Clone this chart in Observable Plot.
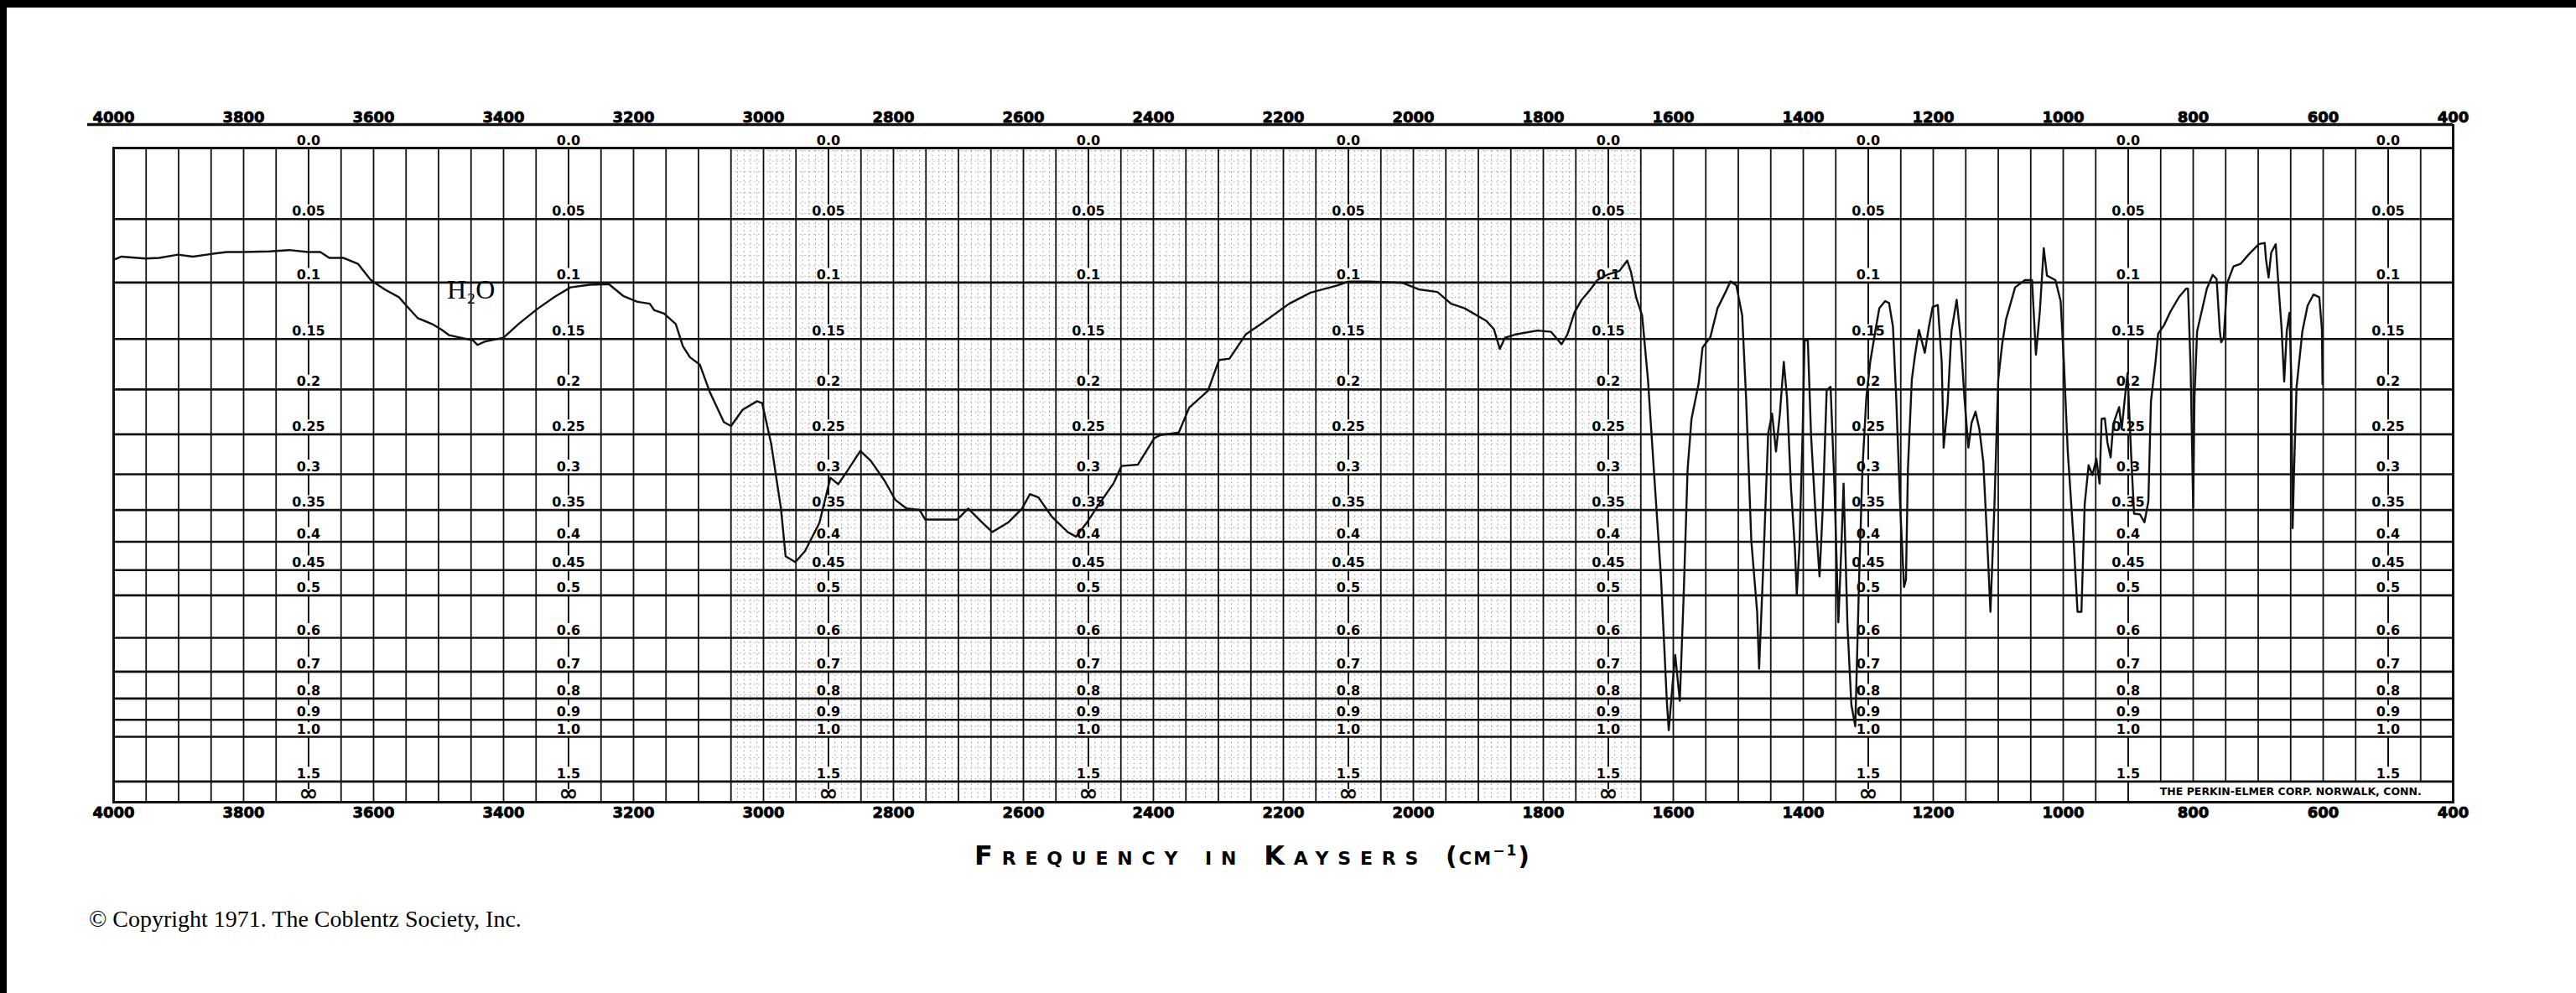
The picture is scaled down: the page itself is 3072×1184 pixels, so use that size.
<!DOCTYPE html>
<html>
<head>
<meta charset="utf-8">
<script src="https://cdn.jsdelivr.net/npm/d3@7"></script>
<script src="https://cdn.jsdelivr.net/npm/@observablehq/plot@0.6"></script>
<style>
html, body { margin: 0; padding: 0; background: #fff; }
body { width: 3072px; height: 1184px; position: relative; overflow: hidden; }
#chart { position: absolute; left: 0; top: 0; }
#topbar { position: absolute; left: 0; top: 0; width: 3072px; height: 9px; background: #000; }
#leftbar { position: absolute; left: 0; top: 0; width: 8px; height: 1184px; background: #000; }
#title { position: absolute; left: 1162px; top: 1004px; font-family: "DejaVu Sans", sans-serif; font-weight: bold;
  font-variant: small-caps; font-size: 32px; line-height: 1; letter-spacing: 10.8px; color: #000; white-space: nowrap; }
#title .unit { font-size: 30px; letter-spacing: 2px; margin-left: 22px; }
#caption { position: absolute; left: 106px; top: 1082px; font-family: "Liberation Serif", "DejaVu Serif", serif;
  font-size: 28px; line-height: 1; color: #000; white-space: nowrap; }
</style>
</head>
<body>
<div id="chart"></div>
<div id="topbar"></div>
<div id="leftbar"></div>
<div id="title">Frequency in Kaysers<span class="unit">(cm<sup style="font-size:17px">−1</sup>)</span></div>
<div id="caption">© Copyright 1971. The Coblentz Society, Inc.</div>
<script>
// ---- Data (wavenumber in cm-1, transmittance in %) ----
const wavenumber = [
  4000,3988,3951,3930,3901,3878,3850,3826,3800,3760,3730,3701,3682,3668,3646,3624,3605,3598,3583,3561,
  3543,3532,3510,3495,3484,3466,3447,3440,3429,3400,3377,3348,3322,3297,3267,3238,3216,3194,3175,3168,
  3153,3135,3124,3113,3098,3083,3061,3050,3032,3010,3002,2988,2973,2966,2951,2936,2914,2897,2885,2872,
  2851,2835,2814,2797,2780,2760,2751,2731,2702,2685,2664,2648,2623,2602,2590,2577,2556,2532,2519,2502,
  2482,2461,2449,2424,2399,2390,2361,2345,2316,2299,2283,2258,2233,2191,2158,2117,2100,2067,2017,1992,
  1963,1942,1921,1888,1876,1867,1859,1843,1809,1788,1772,1763,1752,1741,1729,1717,1700,1683,1671,1665,
  1657,1648,1639,1630,1619,1610,1607,1601,1597,1590,1584,1578,1572,1561,1555,1543,1532,1520,1512,1503,
  1494,1488,1480,1471,1468,1462,1454,1448,1442,1436,1430,1425,1419,1413,1410,1406,1401,1398,1393,1388,
  1380,1375,1370,1364,1358,1352,1346,1341,1338,1332,1326,1320,1314,1309,1303,1297,1288,1283,1274,1268,
  1262,1257,1251,1245,1242,1239,1233,1228,1222,1213,1207,1201,1193,1187,1184,1178,1172,1164,1158,1152,
  1146,1141,1135,1129,1123,1117,1112,1106,1100,1094,1088,1074,1059,1048,1042,1036,1030,1025,1012,1004,
  999,993,984,978,972,967,961,955,949,944,941,936,932,927,923,914,910,906,901,895,
  891,882,875,869,865,858,854,845,835,822,811,808,804,800,798,794,787,779,770,764,
  759,757,753,748,738,727,714,699,690,688,684,680,673,669,664,660,656,652,649,647,
  645,641,632,624,615,606,602,601
];
const transmittance = [
  82.9,83.4,83.1,83.2,83.7,83.4,83.8,84.1,84.1,84.2,84.4,84.1,84.1,83.2,83.2,82.3,79.9,79.4,78.4,77.2,
  75.2,74.0,73.1,72.2,71.4,71.0,70.6,69.9,70.4,71.0,73.1,75.4,77.2,78.7,79.1,79.2,77.4,76.5,76.2,75.2,
  74.7,73.1,69.7,68.0,66.9,62.8,58.1,57.5,60.0,61.3,61.0,54.7,44.8,37.6,36.7,38.4,42.7,49.6,48.6,50.5,
  53.7,52.2,49.2,46.2,44.9,44.7,43.2,43.2,43.2,44.9,42.8,41.3,42.8,44.9,47.1,46.6,43.6,41.3,40.6,42.8,
  45.8,48.8,51.4,51.6,55.6,56.1,56.5,60.3,62.9,67.6,67.8,71.5,73.2,76.2,77.9,79.0,79.6,79.6,79.4,78.4,
  78.0,76.2,75.5,73.6,72.3,69.3,71.0,71.5,72.1,71.9,70.0,71.5,74.9,76.8,78.2,79.8,80.7,81.2,82.8,81.0,
  77.1,74.4,64.6,50.9,34.5,15.5,11.0,18.2,22.5,15.5,31.8,50.9,58.6,64.0,69.5,71.1,75.5,77.9,79.6,79.0,
  74.4,61.8,40.0,29.1,20.4,35.0,56.4,59.4,53.6,59.4,67.3,61.8,48.2,38.9,31.8,38.9,56.4,70.6,70.6,56.0,
  42.0,34.5,45.0,63.0,63.5,48.2,27.5,40.0,48.7,27.0,14.9,11.6,34.5,50.9,61.8,67.3,72.7,75.5,76.6,76.3,
  72.7,61.8,45.5,32.9,34.0,50.9,64.6,68.4,72.2,68.7,72.5,75.7,76.0,67.3,54.2,60.7,72.0,76.8,71.1,61.8,
  54.2,58.0,59.7,57.0,52.0,40.0,29.1,45.0,64.6,70.0,73.8,78.7,79.8,79.8,68.4,75.0,84.7,80.5,79.8,76.6,
  67.3,53.6,40.0,29.1,29.1,45.5,51.5,50.0,52.5,48.7,58.6,58.7,55.0,52.7,57.8,60.4,57.0,61.0,65.6,52.0,
  44.1,44.0,42.8,46.0,61.3,67.3,71.6,72.9,75.0,77.2,78.5,78.5,66.4,45.0,62.0,72.0,75.0,78.5,80.6,80.0,
  72.0,70.3,71.0,79.3,81.9,82.3,83.8,85.3,85.5,83.0,80.2,84.0,85.3,79.3,72.4,64.3,72.0,74.8,65.0,41.9,
  50.0,63.4,72.0,75.9,77.6,77.2,72.4,63.9
];
const frequencyTicks = [4000,3800,3600,3400,3200,3000,2800,2600,2400,2200,2000,1800,1600,1400,1200,1000,800,600,400];
const absorbanceLabels = ["0.0","0.05","0.1","0.15","0.2","0.25","0.3","0.35","0.4","0.45","0.5","0.6","0.7","0.8","0.9","1.0","1.5","∞"];
const absorbanceValues = [0,0.05,0.1,0.15,0.2,0.25,0.3,0.35,0.4,0.45,0.5,0.6,0.7,0.8,0.9,1.0,1.5,Infinity];
const labelColumns = [3700,3300,2900,2500,2100,1700,1300,900,500];
const annotationText = "H₂O";
const makerText = "THE PERKIN-ELMER CORP. NORWALK, CONN.";

// ---- derived ----
const plotHeightPx = 780;               // 176 .. 956
const pxToT = px => px * 100 / plotHeightPx;
const toT = a => 100 * Math.pow(10, -a);
const spectrum = wavenumber.map((w, i) => ({w, t: transmittance[i]}));
const absLines = absorbanceValues.filter(a => a > 0 && isFinite(a)).map(toT);
const boxTop = toT(1.5);
const absText = labelColumns.flatMap(c => absorbanceLabels.map((label, i) => ({c, label, t: toT(absorbanceValues[i])})))
  .filter(d => !(d.label === "∞" && d.c < 1000));
// column scale line: segments between successive labels (label sits just above its line)
const labelT = absorbanceValues.map(toT);
const colSegments = labelColumns.flatMap(c => labelT.slice(0, -1).map((t, i) => ({c, y1: t, y2: labelT[i + 1] + pxToT(i === labelT.length - 2 ? 15 : 17)}))
  .filter(s => s.y2 < s.y1 && !(c === 500 && s.y1 <= boxTop + 0.01)));
const gridX = d3.range(3950, 400, -50).filter(w => !labelColumns.includes(w));
const dotX = d3.range(3040, 1650, -10).filter(w => w % 50 !== 0);
const dotY = d3.range(2, 100, 1.6);

const font = "DejaVu Sans, Verdana, sans-serif";

const chart = Plot.plot({
  width: 3072,
  height: 1000,
  marginLeft: 135,
  marginRight: 147,
  marginTop: 176,
  marginBottom: 44,
  x: {domain: [4000, 400], axis: null},
  y: {domain: [0, 100], axis: null},
  style: {background: "transparent", color: "#000"},
  marks: [
    // fine dotted chart-paper grid
    Plot.ruleX(dotX, {y1: 0, y2: 100, stroke: "#999", strokeWidth: 1, strokeDasharray: "1.5,3.5"}),
    Plot.ruleY(dotY, {x1: 3050, x2: 1650, stroke: "#aaa", strokeWidth: 1, strokeDasharray: "1.5,4"}),
    // main vertical grid
    Plot.ruleX(gridX, {y1: 0, y2: 100, stroke: "#111", strokeWidth: 1.8}),
    // Perkin-Elmer box
    Plot.rect([0], {x1: 900, x2: 400, y1: 0, y2: boxTop, fill: "white", insetTop: 1, insetRight: 2}),
    // column scale lines (interrupted by labels)
    Plot.ruleX(colSegments, {x: "c", y1: "y1", y2: "y2", stroke: "#111", strokeWidth: 2}),
    Plot.ruleX([900], {y1: 0, y2: boxTop, stroke: "#111", strokeWidth: 2}),
    // horizontal absorbance lines
    Plot.ruleY(absLines, {stroke: "#111", strokeWidth: 2.6}),
    Plot.frame({stroke: "#111", strokeWidth: 3}),
    // top axis line + right connector
    Plot.ruleY([100], {x1: 4040, x2: 400, dy: -28, stroke: "#111", strokeWidth: 3.5}),
    Plot.ruleX([400], {y1: 100, y2: 100 + pxToT(28), stroke: "#111", strokeWidth: 3}),
    // frequency labels
    Plot.text(frequencyTicks, {x: d => d, frameAnchor: "top", dy: -43, text: d => String(d),
      fontSize: 18, fontWeight: "bold", fontFamily: font, fill: "#000", stroke: "#000", strokeWidth: 0.8}),
    Plot.text(frequencyTicks, {x: d => d, frameAnchor: "bottom", dy: 18, text: d => String(d),
      fontSize: 18, fontWeight: "bold", fontFamily: font, fill: "#000", stroke: "#000", strokeWidth: 0.8}),
    // absorbance labels in columns
    Plot.text(absText.filter(d => d.label !== "∞"), {x: "c", y: "t", text: "label", lineAnchor: "bottom", dy: -4,
      fontSize: 16, fontWeight: "bold", fontFamily: font, fill: "#000",
      stroke: "white", strokeWidth: 3, paintOrder: "stroke"}),
    Plot.text(absText.filter(d => d.label === "∞"), {x: "c", y: "t", text: "label", lineAnchor: "bottom", dy: -2,
      fontSize: 28, fontFamily: font, fill: "#000", stroke: "#000", strokeWidth: 0.6}),
    Plot.text([makerText], {x: 650, y: boxTop / 2, text: d => d, fontSize: 12.5, fontWeight: "bold",
      fontFamily: font, fill: "#000", letterSpacing: 0.5}),
    Plot.text([annotationText], {x: 3450, y: 78.3, text: d => d, fontSize: 32,
      fontFamily: "Liberation Serif, DejaVu Serif, serif", fill: "#000"}),
    // spectrum
    Plot.line(spectrum, {x: "w", y: "t", stroke: "#111", strokeWidth: 2.4, strokeLinejoin: "round", curve: "linear"})
  ]
});
document.getElementById("chart").appendChild(chart);
</script>
</body>
</html>
